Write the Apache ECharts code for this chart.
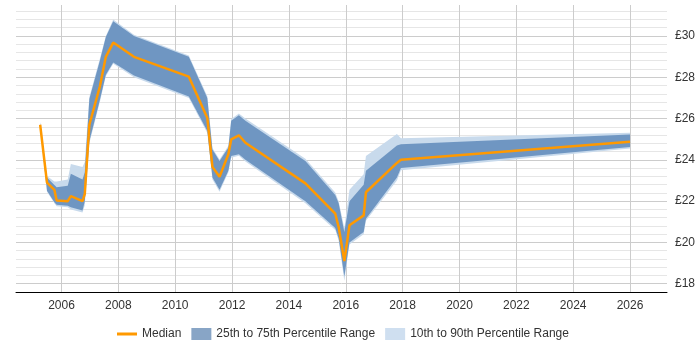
<!DOCTYPE html>
<html>
<head>
<meta charset="utf-8">
<script src="https://cdn.jsdelivr.net/npm/echarts@6/dist/echarts.min.js"></script>
<style>
  html, body { margin: 0; padding: 0; background: #fff; }
  #main { width: 700px; height: 350px; }
</style>
</head>
<body>
<div id="main"></div>
<script>
// decimal years
var dates  = [2005.25, 2005.49, 2005.75, 2005.83, 2006.22, 2006.33, 2006.74, 2006.82, 2006.98, 2007.35,
              2007.56, 2007.82, 2008.55, 2010.48, 2011.13, 2011.31, 2011.56, 2011.87, 2011.97, 2012.24,
              2012.47, 2014.58, 2015.63, 2015.75, 2015.95, 2016.13, 2016.63, 2016.71, 2017.80, 2017.94,
              2026.00];
var p10    = [25.60, 22.45, 21.90, 21.75, 21.70, 21.60, 21.45, 21.80, 24.80, 26.80,
              28.05, 28.65, 28.00, 27.00, 25.30, 23.05, 22.45, 23.40, 24.10, 24.20,
              23.92, 21.90, 20.60, 20.10, 18.15, 19.90, 20.40, 21.05, 23.00, 23.50,
              24.55];
var p25    = [25.62, 22.50, 21.95, 21.82, 21.78, 21.70, 21.55, 22.00, 24.90, 26.90,
              28.12, 28.72, 28.08, 27.07, 25.40, 23.15, 22.55, 23.47, 24.19, 24.27,
              24.00, 22.00, 20.70, 20.20, 18.35, 20.00, 20.50, 21.15, 23.15, 23.60,
              24.62];
var median = [25.70, 22.90, 22.55, 22.03, 22.00, 22.24, 22.00, 22.35, 25.70, 27.55,
              28.99, 29.68, 28.99, 28.03, 26.03, 23.66, 23.18, 24.27, 24.99, 25.19,
              24.83, 22.86, 21.39, 20.75, 19.10, 20.83, 21.31, 22.43, 23.85, 24.00,
              24.88];
var p75    = [25.78, 23.15, 22.78, 22.67, 22.75, 23.33, 23.05, 23.40, 26.95, 28.80,
              29.95, 30.71, 30.00, 28.99, 27.00, 24.50, 23.95, 24.60, 25.90, 26.16,
              25.90, 23.95, 22.30, 21.90, 20.50, 22.00, 22.80, 23.47, 24.70, 24.75,
              25.23];
var p90    = [25.85, 23.22, 22.95, 22.95, 23.05, 23.80, 23.65, 23.90, 27.05, 28.90,
              30.00, 30.80, 30.06, 29.05, 27.08, 24.58, 24.02, 24.68, 25.98, 26.25,
              26.00, 24.05, 22.42, 22.00, 20.70, 22.55, 23.30, 24.19, 25.25, 25.05,
              25.31];

var yearTicks  = [2006, 2008, 2010, 2012, 2014, 2016, 2018, 2020, 2022, 2024, 2026];
var priceTicks = [18, 20, 22, 24, 26, 28, 30];

var font = 'Liberation Sans, Arial, sans-serif';

function pairs(xs, ys) {
  return xs.map(function (x, i) { return [x, ys[i]]; });
}

function isTick(v, list) {
  var r = Math.round(v);
  return Math.abs(v - r) < 0.01 && list.indexOf(r) >= 0;
}

// one filled polygon between two percentile lines
function bandSeries(name, lo, hi, fill) {
  return {
    name: name,
    type: 'custom',
    silent: true,
    color: fill,
    data: dates.map(function (d, i) { return [d, lo[i], hi[i]]; }),
    encode: { x: 0, y: [1, 2] },
    renderItem: function (params, api) {
      if (params.dataIndex !== 0) return;
      var top = [], bottom = [];
      for (var i = 0; i < dates.length; i++) {
        top.push(api.coord([dates[i], hi[i]]));
        bottom.unshift(api.coord([dates[i], lo[i]]));
      }
      return {
        type: 'polygon',
        shape: { points: top.concat(bottom) },
        style: { fill: fill }
      };
    }
  };
}

var chart = echarts.init(document.getElementById('main'));

var option = {
  animation: false,
  grid: { left: 16, right: 33, top: 5, bottom: 58 },
  legend: {
    bottom: 5,
    left: 112,
    itemWidth: 20,
    itemHeight: 12,
    itemGap: 10,
    symbolKeepAspect: true,
    textStyle: { fontFamily: font, fontSize: 12, color: '#333' },
    data: [
      { name: 'Median', icon: 'path://M0,0H20V3H0Z', itemStyle: { color: '#ff9900' } },
      { name: '25th to 75th Percentile Range', icon: 'rect', itemStyle: { color: '#88a5c6' } },
      { name: '10th to 90th Percentile Range', icon: 'rect', itemStyle: { color: '#cfdff0' } }
    ]
  },
  xAxis: {
    type: 'value',
    min: 2004.4,
    max: 2027.3,
    interval: 0.2,
    axisLine: { lineStyle: { color: '#000', width: 1 } },
    axisTick: { show: false },
    axisLabel: {
      fontFamily: font, fontSize: 12, color: '#333', margin: 8,
      formatter: function (v) { return isTick(v, yearTicks) ? String(Math.round(v)) : ''; }
    },
    splitLine: {
      show: true,
      lineStyle: {
        // ticks every 0.2 from 2004.4, only the even years get a line
        color: ['transparent', 'transparent', 'transparent', 'transparent', 'transparent',
                'transparent', 'transparent', 'transparent', '#cccccc', 'transparent']
      }
    }
  },
  yAxis: {
    type: 'value',
    position: 'right',
    min: 17.6,
    max: 31.5,
    interval: 0.4,
    axisLine: { show: false },
    axisTick: { show: false },
    axisLabel: {
      fontFamily: font, fontSize: 12, color: '#333', margin: 8,
      formatter: function (v) { return isTick(v, priceTicks) ? '£' + Math.round(v) : ''; }
    },
    splitLine: {
      show: true,
      showMaxLine: false,
      lineStyle: { color: ['#e6e6e6', '#cccccc', '#e6e6e6', '#e6e6e6', '#e6e6e6'] }
    }
  },
  series: [
    bandSeries('10th to 90th Percentile Range', p10, p90, '#c8daec'),
    bandSeries('25th to 75th Percentile Range', p25, p75, 'rgba(44,98,161,0.57)'),
    {
      name: 'Median',
      type: 'line',
      z: 3,
      data: pairs(dates, median),
      symbol: 'none',
      color: '#ff9900',
      lineStyle: { color: '#ff9900', width: 2.5 }
    }
  ]
};

chart.setOption(option);
</script>
</body>
</html>
